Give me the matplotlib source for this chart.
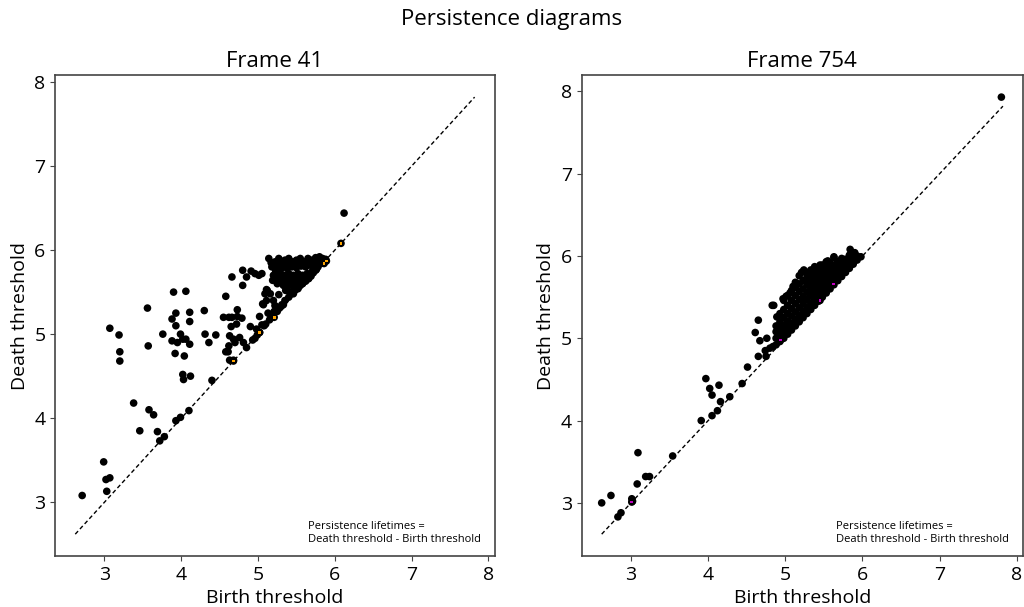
import matplotlib
matplotlib.use("Agg")
import matplotlib.pyplot as plt

plt.rcParams['font.family'] = ['Open Sans', 'DejaVu Sans']

# Frame 41: scattered points (birth, death)
f41_birth = [2.71, 2.99, 3.02, 3.07, 3.03, 3.07, 3.19, 3.20, 3.20, 3.38,
             3.46, 3.58, 3.64, 3.69, 3.72, 3.78, 3.93, 3.99, 4.10, 3.56,
             3.57, 3.76, 3.90, 4.06, 3.93, 3.88, 3.93, 4.11, 4.11, 3.88,
             3.95, 3.99, 4.02, 4.06, 4.11, 3.92, 4.04, 4.02, 4.03, 4.12,
             4.30, 4.31, 4.36, 4.45, 4.40, 4.58, 4.66, 4.80, 4.55, 4.62,
             4.66, 4.73, 4.73, 4.79, 4.65, 4.72, 4.90, 4.63, 4.68, 4.70,
             4.76, 4.81, 4.62, 4.85, 4.58, 4.61, 4.63, 4.68, 4.93, 4.96,
             4.99, 5.02, 4.80, 4.85, 4.91, 4.96, 5.01, 5.05, 6.12]
f41_death = [3.08, 3.48, 3.27, 3.29, 3.13, 5.07, 4.99, 4.79, 4.68, 4.18,
             3.85, 4.10, 4.04, 3.84, 3.73, 3.78, 3.97, 4.01, 4.09, 5.31,
             4.86, 5.00, 5.50, 5.51, 5.25, 5.18, 5.10, 5.26, 5.15, 4.92,
             4.90, 5.00, 4.94, 4.94, 4.88, 4.77, 4.74, 4.52, 4.46, 4.50,
             5.28, 5.00, 4.90, 4.99, 4.45, 5.45, 5.68, 5.58, 5.20, 5.20,
             5.20, 5.29, 5.21, 5.19, 5.09, 5.12, 5.09, 4.98, 4.94, 4.90,
             4.96, 4.90, 4.86, 4.84, 4.79, 4.79, 4.69, 4.69, 4.93, 4.95,
             4.99, 5.02, 5.76, 5.68, 5.75, 5.72, 5.70, 5.72, 6.44]

# Frame 41: dense cluster near (5.5, 5.8)
f41_cluster_birth = [5.14, 5.27, 5.22, 5.30, 5.35, 5.40, 5.45, 5.50, 5.55, 5.60,
                     5.65, 5.70, 5.75, 5.80, 5.84, 5.88, 5.18, 5.25, 5.32, 5.38,
                     5.44, 5.50, 5.56, 5.62, 5.68, 5.74, 5.80, 5.85, 5.20, 5.28,
                     5.34, 5.40, 5.46, 5.52, 5.58, 5.64, 5.70, 5.76, 5.30, 5.36,
                     5.42, 5.48, 5.54, 5.60, 5.66, 5.72, 5.38, 5.44, 5.50, 5.56,
                     5.62, 5.42, 5.48, 5.54, 5.36, 5.58, 5.25, 5.33, 5.68, 5.78,
                     5.46, 5.06, 5.13, 5.02, 5.15, 5.20, 5.22, 5.28, 5.33, 5.11,
                     5.16, 5.27, 5.08, 5.10, 5.17, 5.25, 5.30, 5.35, 5.40, 5.12,
                     5.09, 5.07, 5.11, 5.21, 5.31, 5.05, 4.98,
                     5.17, 5.24, 5.29, 5.35, 5.41, 5.47, 5.53, 5.59, 5.65, 5.71,
                     5.77, 5.33, 5.39, 5.45, 5.51, 5.57, 5.63, 5.69, 5.75, 5.41,
                     5.47, 5.53, 5.59, 5.65, 5.23, 5.82, 5.87, 5.73, 5.62, 5.19,
                     5.26, 5.52, 5.58]
f41_cluster_death = [5.90, 5.90, 5.86, 5.84, 5.88, 5.90, 5.86, 5.88, 5.90, 5.86,
                     5.90, 5.88, 5.91, 5.92, 5.90, 5.89, 5.80, 5.78, 5.80, 5.78,
                     5.80, 5.79, 5.81, 5.80, 5.82, 5.83, 5.84, 5.86, 5.70, 5.72,
                     5.70, 5.72, 5.70, 5.72, 5.70, 5.72, 5.74, 5.77, 5.62, 5.64,
                     5.62, 5.64, 5.62, 5.65, 5.66, 5.73, 5.56, 5.58, 5.56, 5.59,
                     5.63, 5.50, 5.52, 5.57, 5.52, 5.60, 5.60, 5.58, 5.70, 5.80,
                     5.48, 5.36, 5.25, 5.21, 5.17, 5.40, 5.34, 5.31, 5.35, 5.53,
                     5.48, 5.47, 5.10, 5.12, 5.20, 5.27, 5.33, 5.40, 5.44, 5.52,
                     5.48, 5.35, 5.40, 5.27, 5.35, 5.11, 5.06,
                     5.85, 5.82, 5.76, 5.82, 5.84, 5.83, 5.84, 5.83, 5.84, 5.85,
                     5.86, 5.66, 5.68, 5.66, 5.67, 5.66, 5.68, 5.69, 5.76, 5.60,
                     5.60, 5.61, 5.62, 5.66, 5.75, 5.84, 5.87, 5.76, 5.64, 5.64,
                     5.66, 5.54, 5.61]

# Frame 41: small orange points showing through
f41_h0_birth = [6.08, 5.86, 5.89, 5.21, 5.02, 4.68]
f41_h0_death = [6.08, 5.84, 5.87, 5.20, 5.02, 4.68]

# Frame 754: scattered points
f754_birth = [2.62, 2.74, 2.83, 2.87, 3.01, 3.02, 3.08, 3.09, 3.19, 3.24,
              3.54, 3.91, 4.05, 4.12, 4.16, 3.97, 4.02, 4.05, 4.14, 4.28,
              4.44, 4.51, 4.65, 4.75, 4.61, 4.67, 4.76, 4.65, 4.74, 4.80,
              4.84, 4.83, 4.85, 4.89, 7.80, 5.84, 5.90, 5.63, 5.55, 5.45,
              5.21, 5.24, 5.10, 5.14, 5.01, 5.06, 4.97]
f754_death = [3.00, 3.09, 2.83, 2.88, 3.05, 3.02, 3.23, 3.61, 3.32, 3.32,
              3.57, 4.00, 4.06, 4.12, 4.23, 4.51, 4.39, 4.31, 4.43, 4.29,
              4.45, 4.65, 4.78, 4.78, 5.07, 4.97, 5.00, 5.22, 4.85, 4.88,
              4.90, 5.40, 5.40, 5.26, 7.93, 6.08, 6.04, 5.99, 5.94, 5.89,
              5.80, 5.83, 5.63, 5.67, 5.51, 5.55, 5.48]

# Frame 754: dense band, birth per column and deaths in that column
f754_band_birth = [4.88, 4.93, 4.98, 5.03, 5.08, 5.13, 5.18, 5.23, 5.28, 5.33,
                   5.38, 5.43, 5.48, 5.53, 5.58, 5.63, 5.68, 5.73, 5.78, 5.83,
                   5.88, 5.93, 5.98]
f754_band_death = [
    [4.92, 5.00, 5.08, 5.15],
    [4.96, 5.04, 5.12, 5.20, 5.30],
    [5.00, 5.08, 5.16, 5.25, 5.35, 5.46],
    [5.05, 5.13, 5.21, 5.30, 5.40, 5.52],
    [5.10, 5.18, 5.27, 5.36, 5.46, 5.58],
    [5.15, 5.23, 5.32, 5.42, 5.52, 5.62, 5.68],
    [5.20, 5.28, 5.37, 5.47, 5.57, 5.66, 5.76],
    [5.25, 5.33, 5.42, 5.51, 5.60, 5.70, 5.81],
    [5.30, 5.38, 5.47, 5.56, 5.65, 5.74, 5.80],
    [5.35, 5.43, 5.52, 5.60, 5.68, 5.76, 5.83],
    [5.40, 5.48, 5.56, 5.64, 5.72, 5.80, 5.87],
    [5.45, 5.53, 5.61, 5.69, 5.77, 5.84],
    [5.50, 5.58, 5.66, 5.74, 5.82, 5.89],
    [5.55, 5.63, 5.71, 5.79, 5.87, 5.93],
    [5.60, 5.68, 5.76, 5.84, 5.91],
    [5.65, 5.73, 5.81, 5.89, 5.98],
    [5.70, 5.78, 5.86, 5.93],
    [5.75, 5.83, 5.91, 5.97],
    [5.80, 5.88, 5.96],
    [5.85, 5.93, 6.01],
    [5.90, 5.97, 6.04],
    [5.95, 6.00],
    [5.99],
]

# Frame 754: small magenta points showing through
f754_h0_birth = [3.01, 5.45, 4.94, 5.62]
f754_h0_death = [3.01, 5.46, 4.98, 5.66]

diag_range = [2.62, 7.82]
note = "Persistence lifetimes =\nDeath threshold - Birth threshold"

band_b = []
band_d = []
for b, ds in zip(f754_band_birth, f754_band_death):
    for d in ds:
        band_b.append(b)
        band_d.append(d)

fig = plt.figure(figsize=(10.24, 6.07), dpi=100)
ax1 = fig.add_axes([0.054, 0.084, 0.429, 0.792])
ax2 = fig.add_axes([0.568, 0.084, 0.431, 0.792])

fig.suptitle("Persistence diagrams", fontsize=16, y=0.985)

panels = [
    (ax1, "Frame 41", f41_h0_birth, f41_h0_death, "orange",
     [f41_birth, f41_cluster_birth], [f41_death, f41_cluster_death]),
    (ax2, "Frame 754", f754_h0_birth, f754_h0_death, "#c000c0",
     [f754_birth, band_b], [f754_death, band_d]),
]

for ax, title, hb, hd, hcol, bs, ds in panels:
    ax.plot(diag_range, diag_range, color="black", lw=1,
            linestyle=(0, (3, 2)), zorder=1)
    ax.scatter(hb, hd, s=30, c="black", edgecolors="none", zorder=2)
    ax.scatter(hb, hd, s=4, c=hcol, marker="s", edgecolors="none", zorder=3)
    for b, d in zip(bs, ds):
        ax.scatter(b, d, s=30, c="black", edgecolors="none", zorder=2)
    ax.set_title(title, fontsize=16)
    ax.set_xlabel("Birth threshold", fontsize=14)
    ax.set_ylabel("Death threshold", fontsize=14)
    ax.tick_params(labelsize=14, color="#444444")
    for sp in ax.spines.values():
        sp.set_color("#444444")
        sp.set_linewidth(1.2)
    ax.set_xticks([3, 4, 5, 6, 7, 8])
    ax.set_yticks([3, 4, 5, 6, 7, 8])
    ax.text(0.576, 0.048, note, transform=ax.transAxes, fontsize=8,
            va="center", ha="left")

fig.savefig("out.png", dpi=100)
